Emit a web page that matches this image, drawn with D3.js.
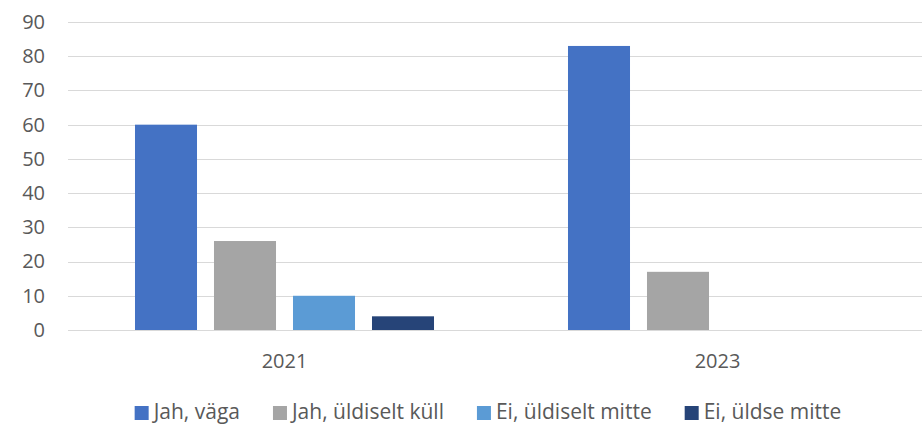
<!DOCTYPE html>
<html lang="et">
<head>
  <meta charset="UTF-8" />
  <title>Jah / Ei 2021–2023</title>
  <style>
    body {
      margin: 0;
      background: #fff;
      font-family: "Open Sans", sans-serif;
    }
    svg text {
      fill: #595959;
    }
  </style>
</head>
<body>
  <div id="chart"></div>

  <script src="https://d3js.org/d3.v7.min.js"></script>
  <script>
    const years = ["2021", "2023"];
    const seriesNames = ["Jah, väga", "Jah, üldiselt küll", "Ei, üldiselt mitte", "Ei, üldse mitte"];
    const values2021 = [60, 26, 10, 4];
    const values2023 = [83, 17, 0, 0];
    const yTicks = [0, 10, 20, 30, 40, 50, 60, 70, 80, 90];
    const colors = ["#4472C4", "#A5A5A5", "#5B9BD5", "#264478"];

    const width = 922, height = 425;
    const plot = {left: 68, right: 934, top: 22, bottom: 330};

    const rows = years.map((yr, i) => ({
      year: yr,
      values: i === 0 ? values2021 : values2023
    }));

    const svg = d3.select("#chart")
      .append("svg")
        .attr("width", width)
        .attr("height", height);

    const x0 = d3.scaleBand()
      .domain(years)
      .range([plot.left, plot.right])
      .padding(0);

    const x1 = d3.scaleBand()
      .domain(seriesNames)
      .range([0, x0.bandwidth()])
      .paddingInner(0.215)
      .paddingOuter(0.848);

    const y = d3.scaleLinear()
      .domain([0, 90])
      .range([plot.bottom, plot.top]);

    // gridlines
    svg.append("g")
      .selectAll("line")
      .data(yTicks)
      .enter()
      .append("line")
        .attr("x1", plot.left)
        .attr("x2", width)
        .attr("y1", d => Math.round(y(d)) + 0.5)
        .attr("y2", d => Math.round(y(d)) + 0.5)
        .attr("stroke", "#D9D9D9")
        .attr("stroke-width", 1);

    // y axis labels
    const yAxis = svg.append("g")
      .attr("transform", "translate(45,0)")
      .call(d3.axisLeft(y).tickValues(yTicks).tickSize(0).tickPadding(0));
    yAxis.select(".domain").remove();
    yAxis.selectAll("text")
      .style("font-family", "'Open Sans', sans-serif")
      .style("font-size", "20px")
      .attr("fill", "#595959");

    // bars
    const groups = svg.append("g")
      .selectAll("g")
      .data(rows)
      .enter()
      .append("g")
        .attr("transform", d => `translate(${x0(d.year)},0)`);

    groups.selectAll("rect")
      .data(d => d.values.map((v, i) => ({ name: seriesNames[i], value: v, i })))
      .enter()
      .append("rect")
        .attr("x", d => x1(d.name))
        .attr("y", d => y(d.value))
        .attr("width", x1.bandwidth())
        .attr("height", d => plot.bottom - y(d.value))
        .attr("fill", d => colors[d.i]);

    // x axis labels
    const xAxis = svg.append("g")
      .attr("transform", `translate(0,${plot.bottom})`)
      .call(d3.axisBottom(x0).tickSize(0).tickPadding(0));
    xAxis.select(".domain").remove();
    xAxis.selectAll("text")
      .attr("dy", null)
      .attr("y", 38)
      .style("font-family", "'Open Sans', sans-serif")
      .style("font-size", "20px")
      .attr("fill", "#595959");

    // legend
    const legend = svg.append("g");
    const items = legend.selectAll("g")
      .data(seriesNames)
      .enter()
      .append("g");

    items.append("rect")
      .attr("y", 406)
      .attr("width", 14)
      .attr("height", 14)
      .attr("fill", (d, i) => colors[i]);

    items.append("text")
      .attr("x", 19)
      .attr("y", 419)
      .style("font-size", "21px")
      .text(d => d);

    const gap = 33;
    let xPos = 0;
    const offsets = [];
    items.each(function() {
      const w = d3.select(this).select("text").node().getComputedTextLength();
      offsets.push(xPos);
      xPos += 19 + w + gap;
    });
    const total = xPos - gap;
    const start = 488 - total / 2;
    items.attr("transform", (d, i) => `translate(${start + offsets[i]},0)`);
  </script>
</body>
</html>
